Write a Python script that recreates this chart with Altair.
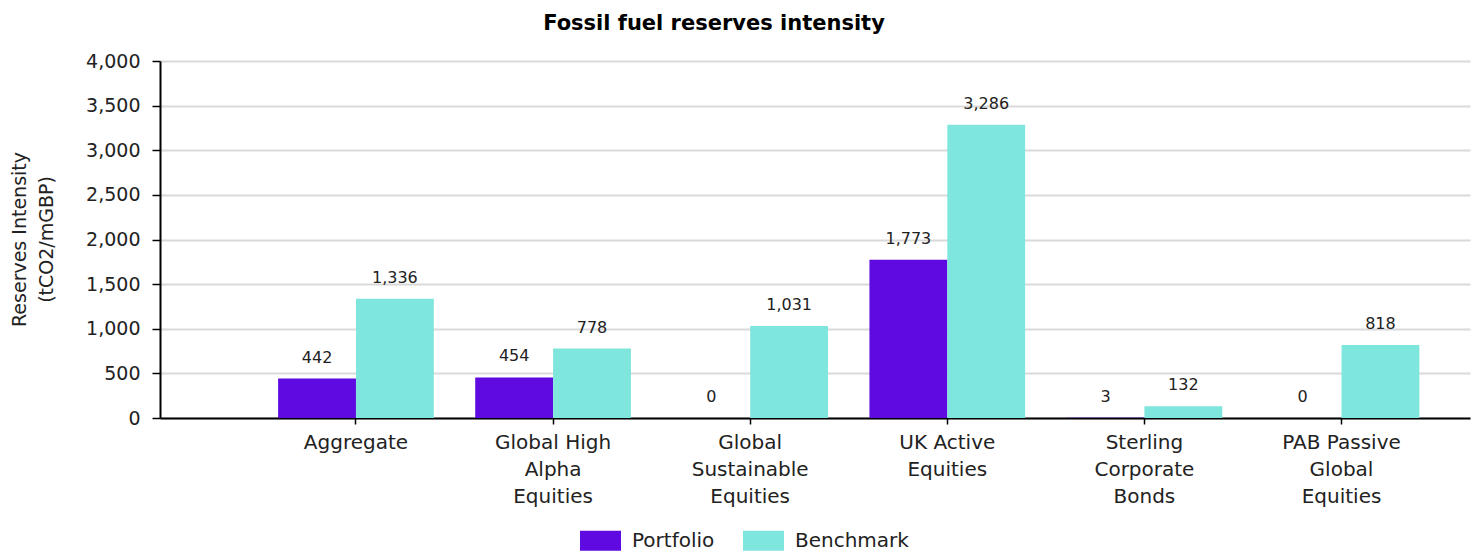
import altair as alt
import pandas as pd

categories = [
    "Aggregate",
    "Global High\nAlpha\nEquities",
    "Global\nSustainable\nEquities",
    "UK Active\nEquities",
    "Sterling\nCorporate\nBonds",
    "PAB Passive\nGlobal\nEquities",
]
series_names = ["Portfolio", "Benchmark"]
portfolio = [442, 454, 0, 1773, 3, 0]
benchmark = [1336, 778, 1031, 3286, 132, 818]
y_ticks = [0, 500, 1000, 1500, 2000, 2500, 3000, 3500, 4000]
colors = ["#5E0AE0", "#7FE6DE"]

rows = []
for c, p, b in zip(categories, portfolio, benchmark):
    rows.append({"category": c, "series": "Portfolio", "value": p})
    rows.append({"category": c, "series": "Benchmark", "value": b})
df = pd.DataFrame(rows)

FONT = "DejaVu Sans"

x_enc = alt.X(
    "category:N",
    sort=categories,
    scale=alt.Scale(paddingInner=0.21, paddingOuter=0.428, align=0.7),
    axis=alt.Axis(
        title=None,
        labelAngle=0,
        labelExpr="split(datum.label, '\\n')",
        labelFont=FONT,
        labelFontSize=20,
        labelColor="#222222",
        labelLineHeight=27,
        labelBaseline="top",
        labelPadding=8,
        tickSize=6,
        tickColor="#000000",
        tickWidth=1.5,
        domainColor="#000000",
        domainWidth=2,
        grid=False,
    ),
)
xoff = alt.XOffset("series:N", sort=series_names, scale=alt.Scale(paddingInner=0))
y_enc = alt.Y(
    "value:Q",
    scale=alt.Scale(domain=[0, 4000], nice=False),
    axis=alt.Axis(
        values=y_ticks,
        format=",.0f",
        title=["Reserves Intensity", "(tCO2/mGBP)"],
        titleFont=FONT,
        titleFontSize=19,
        titleFontWeight="normal",
        titleColor="#222222",
        titleLineHeight=27,
        titleAngle=-90,
        titleX=-150,
        titleY=178,
        titleAlign="center",
        titleBaseline="top",
        labelFont=FONT,
        labelFontSize=19,
        labelColor="#222222",
        labelPadding=12,
        tickSize=8,
        tickColor="#000000",
        tickWidth=1.5,
        domainColor="#000000",
        domainWidth=2,
        gridColor="#D9D9D9",
        gridWidth=2,
    ),
)

bars = alt.Chart(df).mark_bar().encode(
    x=x_enc,
    xOffset=xoff,
    y=y_enc,
    color=alt.Color(
        "series:N",
        sort=series_names,
        scale=alt.Scale(domain=series_names, range=colors),
        legend=alt.Legend(
            title=None,
            orient="none",
            legendX=420,
            legendY=459,
            direction="horizontal",
            symbolType="M-1,-0.49 H1 V0.49 H-1 Z",
            symbolSize=1681,
            symbolStrokeWidth=0,
            labelFont=FONT,
            labelFontSize=20,
            labelColor="#222222",
            labelOffset=11,
            columnPadding=28,
        ),
    ),
)

labels = alt.Chart(df).mark_text(
    font=FONT, fontSize=16, color="#222222", baseline="alphabetic", dy=-16
).encode(
    x=alt.X("category:N", sort=categories),
    xOffset=alt.XOffset("series:N", sort=series_names),
    y=alt.Y("value:Q"),
    text=alt.Text("value:Q", format=",.0f"),
)

chart = (
    alt.layer(bars, labels)
    .properties(
        width=1310,
        height=357,
        title=alt.TitleParams(
            "Fossil fuel reserves intensity",
            font=FONT,
            fontSize=21,
            fontWeight="bold",
            color="#000000",
            anchor="middle",
            dx=-101,
            offset=18,
        ),
        autosize=alt.AutoSizeParams(type="none"),
        padding={"left": 152, "top": 53, "right": 1, "bottom": 136},
    )
    .configure_view(stroke=None)
)

chart.save("out.html", embed_options={"renderer": "svg", "actions": False})
